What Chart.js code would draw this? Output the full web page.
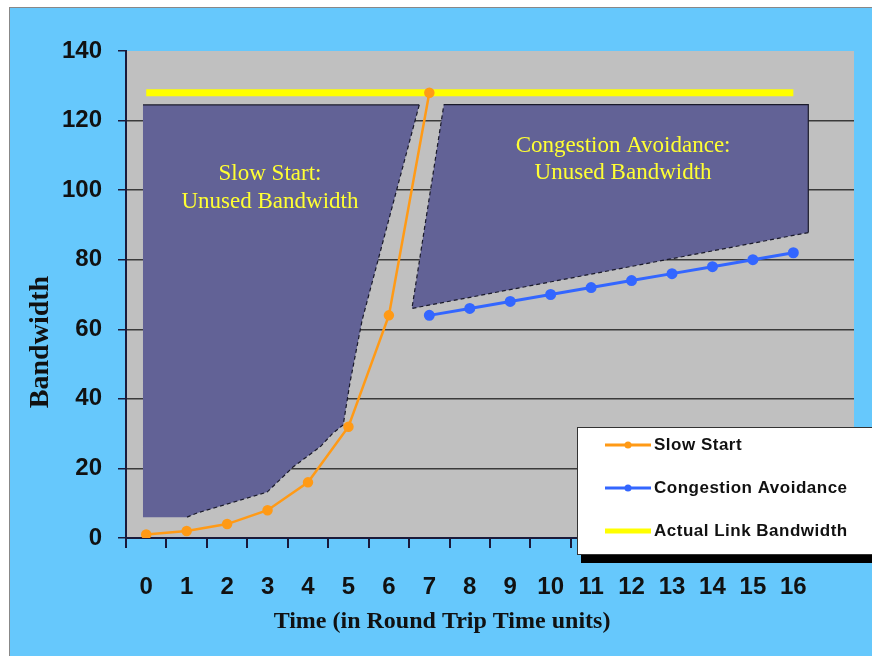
<!DOCTYPE html>
<html>
<head>
<meta charset="utf-8">
<script src="https://cdn.jsdelivr.net/npm/chart.js@4.4.1/dist/chart.umd.min.js"></script>
<style>
  body { margin: 0; background: #fff; }
  #wrap {
    position: absolute; left: 9px; top: 7px;
    border-top: 1px solid #888; border-left: 1px solid #888;
    background: #66c8fc; width: 862px; height: 648px;
  }
  canvas { display: block; }
</style>
</head>
<body>
<div id="wrap"><canvas id="bw_plot" width="862" height="648"></canvas></div>
<script>
// time axis (round trip time units), last slot is left empty
const timeLabels = ['0','1','2','3','4','5','6','7','8','9','10','11','12','13','14','15','16',''];
const slowStart = [1, 2, 4, 8, 16, 32, 64, 128];
const congestionAvoidance = [null, null, null, null, null, null, null, 64, 66, 68, 70, 72, 74, 76, 78, 80, 82];
const linkBandwidth = [128, 128, 128, 128, 128, 128, 128, 128, 128, 128, 128, 128, 128, 128, 128, 128, 128];
const yTicks = [0, 20, 40, 60, 80, 100, 120, 140];

// unused bandwidth areas (x in time units, y in bandwidth)
const slowGapX = [-0.08, 6.75, 5.34, 5.04, 4.87, 4.62, 4.30, 3.63, 2.99, 1.26, 1.01, -0.08, -0.08];
const slowGapY = [124.5, 124.5, 62.7, 44.8, 32.5, 30.2, 26.2, 20.4, 13.2, 7.2, 6.0, 6.0, 124.5];
const congGapX = [7.36, 16.37, 16.37, 6.57, 7.36];
const congGapY = [124.6, 124.6, 87.8, 66.0, 124.6];

const legendLabels = ['Slow Start', 'Congestion Avoidance', 'Actual Link Bandwidth'];

const toPoints = (xs, ys) => xs.map((x, i) => ({ x: x, y: ys[i] }));

// outline: dashed on sloped edges, solid on straight ones, none on the left/bottom of slow start
const edgeStyle = {
    borderColor: c => {
        const a = c.p0.parsed, b = c.p1.parsed;
        if ((a.x === b.x && a.x < 0) || (a.y === b.y && a.y < 10)) return 'rgba(0,0,0,0)';
        return '#1a1a2a';
    },
    borderDash: c => {
        const a = c.p0.parsed, b = c.p1.parsed;
        return (a.x === b.x || a.y === b.y) ? [] : [4, 3];
    }
};

function gapFill(label, xs, ys) {
    return {
        label: label,
        data: toPoints(xs, ys),
        xAxisID: 'x2',
        backgroundColor: '#626296',
        borderColor: 'rgba(0,0,0,0)',
        borderWidth: 0,
        pointRadius: 0,
        tension: 0,
        fill: 'shape'
    };
}

function gapEdge(label, xs, ys) {
    return {
        label: label,
        data: toPoints(xs, ys),
        xAxisID: 'x2',
        borderColor: '#1a1a2a',
        borderWidth: 1.2,
        segment: edgeStyle,
        pointRadius: 0,
        tension: 0,
        fill: false
    };
}

const bgPlugin = {
    id: 'plotBg',
    beforeDraw(chart) {
        const { ctx, chartArea: a } = chart;
        ctx.save();
        ctx.fillStyle = '#c0c0c0';
        ctx.fillRect(a.left, a.top, a.right - a.left, a.bottom - a.top);
        ctx.restore();
    }
};

const notesPlugin = {
    id: 'notes',
    afterDatasetsDraw(chart) {
        const { ctx } = chart;
        const xs = chart.scales.x2, ys = chart.scales.y;
        ctx.save();
        ctx.fillStyle = '#ffff33';
        ctx.font = '23px "Liberation Serif", "Times New Roman", serif';
        ctx.textAlign = 'center';
        ctx.textBaseline = 'middle';
        ctx.fillText('Slow Start:', xs.getPixelForValue(3.06), ys.getPixelForValue(104.6));
        ctx.fillText('Unused Bandwidth', xs.getPixelForValue(3.06), ys.getPixelForValue(96.6));
        ctx.fillText('Congestion Avoidance:', xs.getPixelForValue(11.79), ys.getPixelForValue(112.7));
        ctx.fillText('Unused Bandwidth', xs.getPixelForValue(11.79), ys.getPixelForValue(104.9));
        ctx.restore();
    },
    afterDraw(chart) {
        const { ctx } = chart;
        ctx.save();
        // axis titles
        ctx.fillStyle = '#111';
        ctx.textAlign = 'center';
        ctx.textBaseline = 'middle';
        ctx.font = 'bold 24px "Liberation Serif", "Times New Roman", serif';
        ctx.fillText('Time (in Round Trip Time units)', 432, 614);
        ctx.translate(31, 334);
        ctx.rotate(-Math.PI / 2);
        ctx.font = 'bold 28px "Liberation Serif", "Times New Roman", serif';
        ctx.fillText('Bandwidth', 0, 0);
        ctx.restore();

        // legend box
        ctx.save();
        ctx.fillStyle = '#000';
        ctx.fillRect(571, 424, 291, 131);
        ctx.fillStyle = '#fff';
        ctx.fillRect(567, 419, 295, 128);
        ctx.strokeStyle = '#333';
        ctx.lineWidth = 1;
        ctx.strokeRect(567.5, 419.5, 300, 127);
        const ds = chart.data.datasets;
        ctx.font = 'bold 17px "Liberation Sans", Arial, sans-serif';
        ctx.letterSpacing = '0.5px';
        ctx.textBaseline = 'middle';
        legendLabels.forEach((lab, i) => {
            const y = 437 + i * 43;
            ctx.strokeStyle = ds[i].borderColor;
            ctx.lineWidth = i === 2 ? 5 : 3;
            ctx.beginPath();
            ctx.moveTo(595, y);
            ctx.lineTo(641, y);
            ctx.stroke();
            if (i < 2) {
                ctx.fillStyle = ds[i].borderColor;
                ctx.beginPath();
                ctx.arc(618, y, 3.5, 0, Math.PI * 2);
                ctx.fill();
            }
            ctx.fillStyle = '#111';
            ctx.fillText(lab, 644, y);
        });
        ctx.restore();
    }
};

const ctx = document.getElementById('bw_plot').getContext('2d');
const bwChart = new Chart(ctx, {
    type: 'line',
    data: {
        labels: timeLabels,
        datasets: [{
            label: legendLabels[0],
            data: slowStart,
            borderColor: '#ff9a16',
            backgroundColor: '#ff9a16',
            borderWidth: 2.5,
            pointRadius: 4,
            tension: 0,
            fill: false
        }, {
            label: legendLabels[1],
            data: congestionAvoidance,
            borderColor: '#3366ff',
            backgroundColor: '#3366ff',
            borderWidth: 3,
            pointRadius: 4,
            tension: 0,
            fill: false
        }, {
            label: legendLabels[2],
            data: linkBandwidth,
            borderColor: '#ffff00',
            backgroundColor: '#ffff00',
            borderWidth: 7,
            pointRadius: 0,
            fill: false
        },
        gapEdge('slow gap edge', slowGapX, slowGapY),
        gapEdge('congestion gap edge', congGapX, congGapY),
        gapFill('slow gap', slowGapX, slowGapY),
        gapFill('congestion gap', congGapX, congGapY)]
    },
    options: {
        responsive: false,
        animation: false,
        layout: {
            padding: { left: 0, right: 18, top: 43, bottom: 0 }
        },
        plugins: {
            legend: { display: false },
            tooltip: { enabled: false }
        },
        scales: {
            x: {
                type: 'category',
                offset: true,
                grid: {
                    drawOnChartArea: false,
                    offset: true,
                    tickLength: 10,
                    color: '#1a1a3a',
                    lineWidth: 2
                },
                border: { color: '#1a1a3a', width: 2 },
                ticks: {
                    autoSkip: false,
                    maxRotation: 0,
                    padding: 25,
                    color: '#111',
                    font: { family: '"Liberation Sans", Arial, sans-serif', size: 24, weight: 'bold' }
                },
                afterFit: s => { s.height = 118; }
            },
            x2: {
                type: 'linear',
                display: false,
                min: -0.5,
                max: 17.5
            },
            y: {
                min: 0,
                max: 140,
                afterBuildTicks: s => { s.ticks = yTicks.map(v => ({ value: v })); },
                grid: {
                    color: c => (c.tick && c.tick.value === 140) ? 'rgba(0,0,0,0)' : '#3a3a3a',
                    lineWidth: 1.5,
                    tickLength: 8,
                    tickColor: '#1a1a3a'
                },
                border: { color: '#1a1a3a', width: 2 },
                ticks: {
                    padding: 16,
                    color: '#111',
                    font: { family: '"Liberation Sans", Arial, sans-serif', size: 24, weight: 'bold' }
                },
                afterFit: s => { s.width = 116; }
            }
        }
    },
    plugins: [bgPlugin, notesPlugin]
});
</script>
</body>
</html>
